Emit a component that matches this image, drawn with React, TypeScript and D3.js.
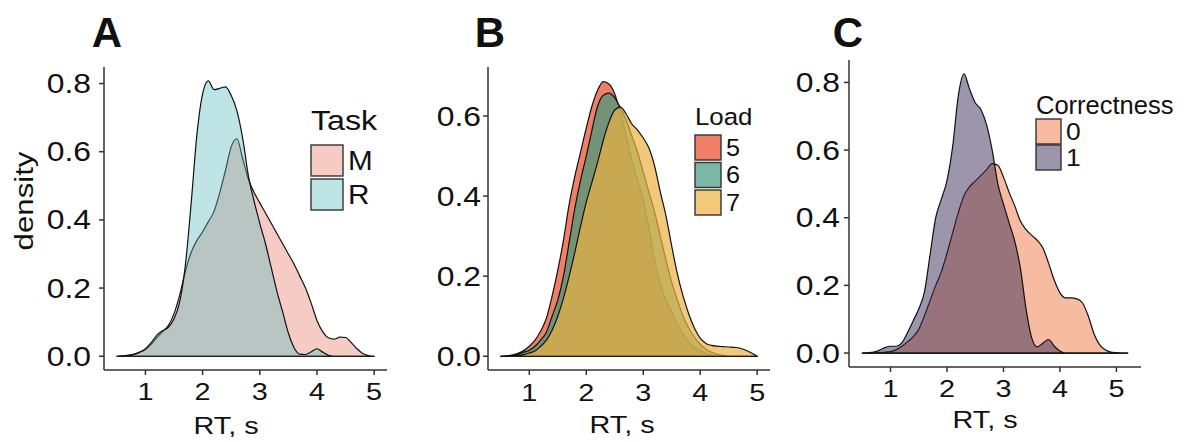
import React from "react";
import * as d3 from "d3";

// ---------- data ----------
const xsAB = [0.5,0.6,0.7,0.8,0.9,1.0,1.1,1.2,1.3,1.4,1.5,1.6,1.7,1.8,1.9,2.0,2.1,2.2,2.3,2.4,2.5,2.6,2.7,2.8,2.9,3.0,3.1,3.2,3.3,3.4,3.5,3.6,3.7,3.8,3.9,4.0,4.1,4.2,4.3,4.4,4.5,4.6,4.7,4.8,4.9,5.0];
const xsC = [0.5,0.6,0.7,0.8,0.9,1.0,1.1,1.2,1.3,1.4,1.5,1.6,1.7,1.8,1.9,2.0,2.1,2.2,2.3,2.4,2.5,2.6,2.7,2.8,2.9,3.0,3.1,3.2,3.3,3.4,3.5,3.6,3.7,3.8,3.9,4.0,4.1,4.2,4.3,4.4,4.5,4.6,4.7,4.8,4.9,5.0,5.1,5.2];

// Panel A: Task
const taskLabels = ["M", "R"];
const taskM = [0,0.001,0.003,0.006,0.012,0.02,0.035,0.055,0.072,0.09,0.125,0.18,0.25,0.305,0.34,0.365,0.395,0.425,0.48,0.545,0.615,0.638,0.58,0.52,0.48,0.45,0.42,0.39,0.36,0.33,0.3,0.27,0.235,0.2,0.155,0.105,0.072,0.054,0.05,0.056,0.055,0.04,0.022,0.008,0.002,0];
const taskR = [0,0.001,0.002,0.005,0.012,0.022,0.04,0.062,0.075,0.085,0.11,0.16,0.27,0.45,0.65,0.77,0.808,0.782,0.786,0.79,0.765,0.72,0.64,0.53,0.455,0.39,0.33,0.26,0.19,0.13,0.068,0.025,0.006,0.005,0.013,0.022,0.012,0.003,0,0,0,0,0,0,0,0];

// Panel B: Load
const loadLabels = ["5", "6", "7"];
const load5 = [0,0.001,0.003,0.007,0.014,0.025,0.04,0.063,0.095,0.15,0.215,0.29,0.38,0.45,0.51,0.57,0.625,0.665,0.686,0.68,0.655,0.607,0.55,0.49,0.44,0.39,0.32,0.24,0.18,0.14,0.11,0.08,0.055,0.035,0.022,0.014,0.007,0.003,0.001,0,0,0,0,0,0,0];
const load6 = [0,0.0005,0.002,0.005,0.01,0.015,0.025,0.04,0.06,0.1,0.14,0.2,0.285,0.37,0.44,0.5,0.565,0.625,0.652,0.657,0.645,0.62,0.59,0.55,0.51,0.46,0.41,0.36,0.3,0.24,0.185,0.14,0.1,0.07,0.047,0.03,0.018,0.01,0.005,0.002,0,0,0,0,0,0];
const load7 = [0,0,0.001,0.002,0.004,0.008,0.013,0.025,0.04,0.065,0.1,0.145,0.2,0.26,0.325,0.385,0.435,0.485,0.54,0.585,0.615,0.622,0.605,0.58,0.565,0.545,0.52,0.475,0.41,0.35,0.275,0.205,0.15,0.105,0.07,0.045,0.032,0.027,0.025,0.024,0.023,0.022,0.02,0.015,0.008,0];

// Panel C: Correctness
const corrLabels = ["0", "1"];
const corr0 = [0,0,0,0.001,0.003,0.004,0.01,0.02,0.033,0.048,0.07,0.11,0.155,0.2,0.24,0.295,0.355,0.415,0.465,0.492,0.508,0.525,0.542,0.56,0.555,0.52,0.475,0.435,0.39,0.365,0.348,0.333,0.31,0.265,0.215,0.178,0.163,0.163,0.16,0.148,0.11,0.058,0.025,0.01,0.003,0.001,0,0];
const corr1 = [0,0.001,0.003,0.008,0.016,0.02,0.02,0.03,0.06,0.095,0.13,0.18,0.29,0.4,0.455,0.51,0.61,0.76,0.825,0.78,0.74,0.72,0.675,0.6,0.5,0.44,0.385,0.33,0.25,0.13,0.045,0.018,0.03,0.04,0.02,0.006,0,0,0,0,0,0,0,0,0,0,0,0];

const xTicks = [1, 2, 3, 4, 5];
const yTicksA = [0, 0.2, 0.4, 0.6, 0.8];
const yTicksB = [0, 0.2, 0.4, 0.6];
const yTicksC = [0, 0.2, 0.4, 0.6, 0.8];

const FONT = "'Liberation Sans', Arial, Helvetica, sans-serif";

function T({ x, y, size, sx = 1.2, anchor = "start", rotate = 0, weight = "normal", children }: any) {
  return (
    <g transform={`translate(${x},${y}) rotate(${rotate}) scale(${sx},1)`}>
      <text fontSize={size} textAnchor={anchor} fontWeight={weight} fontFamily={FONT} fill="#111">
        {children}
      </text>
    </g>
  );
}

function Panel({ xs, series, colors, alpha, xDomain, xRange, yDomain, yRange, yTicks, ytl, xtlBase, title, legend }: any) {
  const x = d3.scaleLinear().domain(xDomain).range(xRange);
  const y = d3.scaleLinear().domain(yDomain).range(yRange);
  const area = d3
    .area<number>()
    .x((_, i) => x(xs[i]))
    .y0(y(0))
    .y1((d) => y(d))
    .curve(d3.curveMonotoneX);
  return (
    <g>
      {series.map((s: number[], i: number) => (
        <path key={i} d={area(s) || ""} fill={colors[i]} fillOpacity={alpha} stroke="#111" strokeWidth={1.2} strokeLinejoin="round" />
      ))}
      {/* axes */}
      <line x1={xRange[0]} x2={xRange[1]} y1={yRange[0]} y2={yRange[0]} stroke="#333" strokeWidth={1.5} />
      <line x1={xRange[0]} x2={xRange[0]} y1={yRange[0]} y2={yRange[1]} stroke="#333" strokeWidth={1.5} />
      {xTicks.map((t) => (
        <g key={"x" + t}>
          <line x1={x(t)} x2={x(t)} y1={yRange[0]} y2={yRange[0] + 5} stroke="#333" strokeWidth={1.5} />
          <T x={x(t)} y={xtlBase} size={24} anchor="middle">{String(t)}</T>
        </g>
      ))}
      {yTicks.map((t: number) => (
        <g key={"y" + t}>
          <line x1={xRange[0] - 5} x2={xRange[0]} y1={y(t)} y2={y(t)} stroke="#333" strokeWidth={1.5} />
          <T x={ytl} y={y(t) + 9.6} size={27} sx={1.18} anchor="end">{t.toFixed(1)}</T>
        </g>
      ))}
      <T x={title.x} y={title.y} size={24} anchor="middle">RT, s</T>
      <T x={legend.letterX} y={47} size={42} sx={1} anchor="middle" weight="bold">{legend.letter}</T>
      <T x={legend.x} y={legend.titleY} size={legend.titleSize} sx={legend.titleSx}>{legend.title}</T>
      {legend.labels.map((lab: string, i: number) => (
        <g key={lab}>
          <rect x={legend.x} y={legend.keyY + i * legend.keyStep} width={legend.keyW} height={legend.keyH} fill={colors[i]} fillOpacity={alpha} stroke="#333" strokeWidth={1.4} />
          <T x={legend.x + legend.keyW + 5} y={legend.keyY + i * legend.keyStep + legend.keyH / 2 + legend.labSize * 0.36} size={legend.labSize} sx={1.1}>{lab}</T>
        </g>
      ))}
    </g>
  );
}

export default function App() {
  return (
    <svg width={1185} height={442} style={{ position: "absolute", left: 0, top: 0, background: "#fff" }}>
      <rect width={1185} height={442} fill="#fff" />
      <T x={33} y={201} size={26} rotate={-90} anchor="middle">density</T>
      <Panel
        xs={xsAB}
        series={[taskM, taskR]}
        colors={["#E97D6B", "#5CBBC0"]}
        alpha={0.4}
        xDomain={[0.275, 5.225]}
        xRange={[104, 387]}
        yDomain={[-0.0404, 0.8485]}
        yRange={[370, 67]}
        yTicks={yTicksA}
        ytl={91}
        xtlBase={400}
        title={{ x: 226, y: 434 }}
        legend={{ letter: "A", letterX: 107, x: 311, title: "Task", titleY: 130, titleSize: 28, titleSx: 1.15, labels: taskLabels, keyY: 145, keyStep: 34, keyW: 32, keyH: 31, labSize: 27 }}
      />
      <Panel
        xs={xsAB}
        series={[load5, load6, load7]}
        colors={["#E84A27", "#3E9A7E", "#ECB241"]}
        alpha={0.7}
        xDomain={[0.275, 5.225]}
        xRange={[488, 770]}
        yDomain={[-0.0344, 0.7224]}
        yRange={[370, 67]}
        yTicks={yTicksB}
        ytl={481}
        xtlBase={401}
        title={{ x: 622, y: 433 }}
        legend={{ letter: "B", letterX: 490, x: 695, title: "Load", titleY: 125, titleSize: 23.5, titleSx: 1.1, labels: loadLabels, keyY: 135, keyStep: 27.5, keyW: 26, keyH: 25, labSize: 23 }}
      />
      <Panel
        xs={xsC}
        series={[corr0, corr1]}
        colors={["#ED7741", "#3B2B57"]}
        alpha={0.5}
        xDomain={[0.265, 5.435]}
        xRange={[849, 1141]}
        yDomain={[-0.0413, 0.8663]}
        yRange={[367, 60]}
        yTicks={yTicksC}
        ytl={840}
        xtlBase={397}
        title={{ x: 985, y: 428 }}
        legend={{ letter: "C", letterX: 848, x: 1036, title: "Correctness", titleY: 114, titleSize: 25.5, titleSx: 1.0, labels: corrLabels, keyY: 119, keyStep: 26, keyW: 25, keyH: 25, labSize: 24 }}
      />
    </svg>
  );
}
